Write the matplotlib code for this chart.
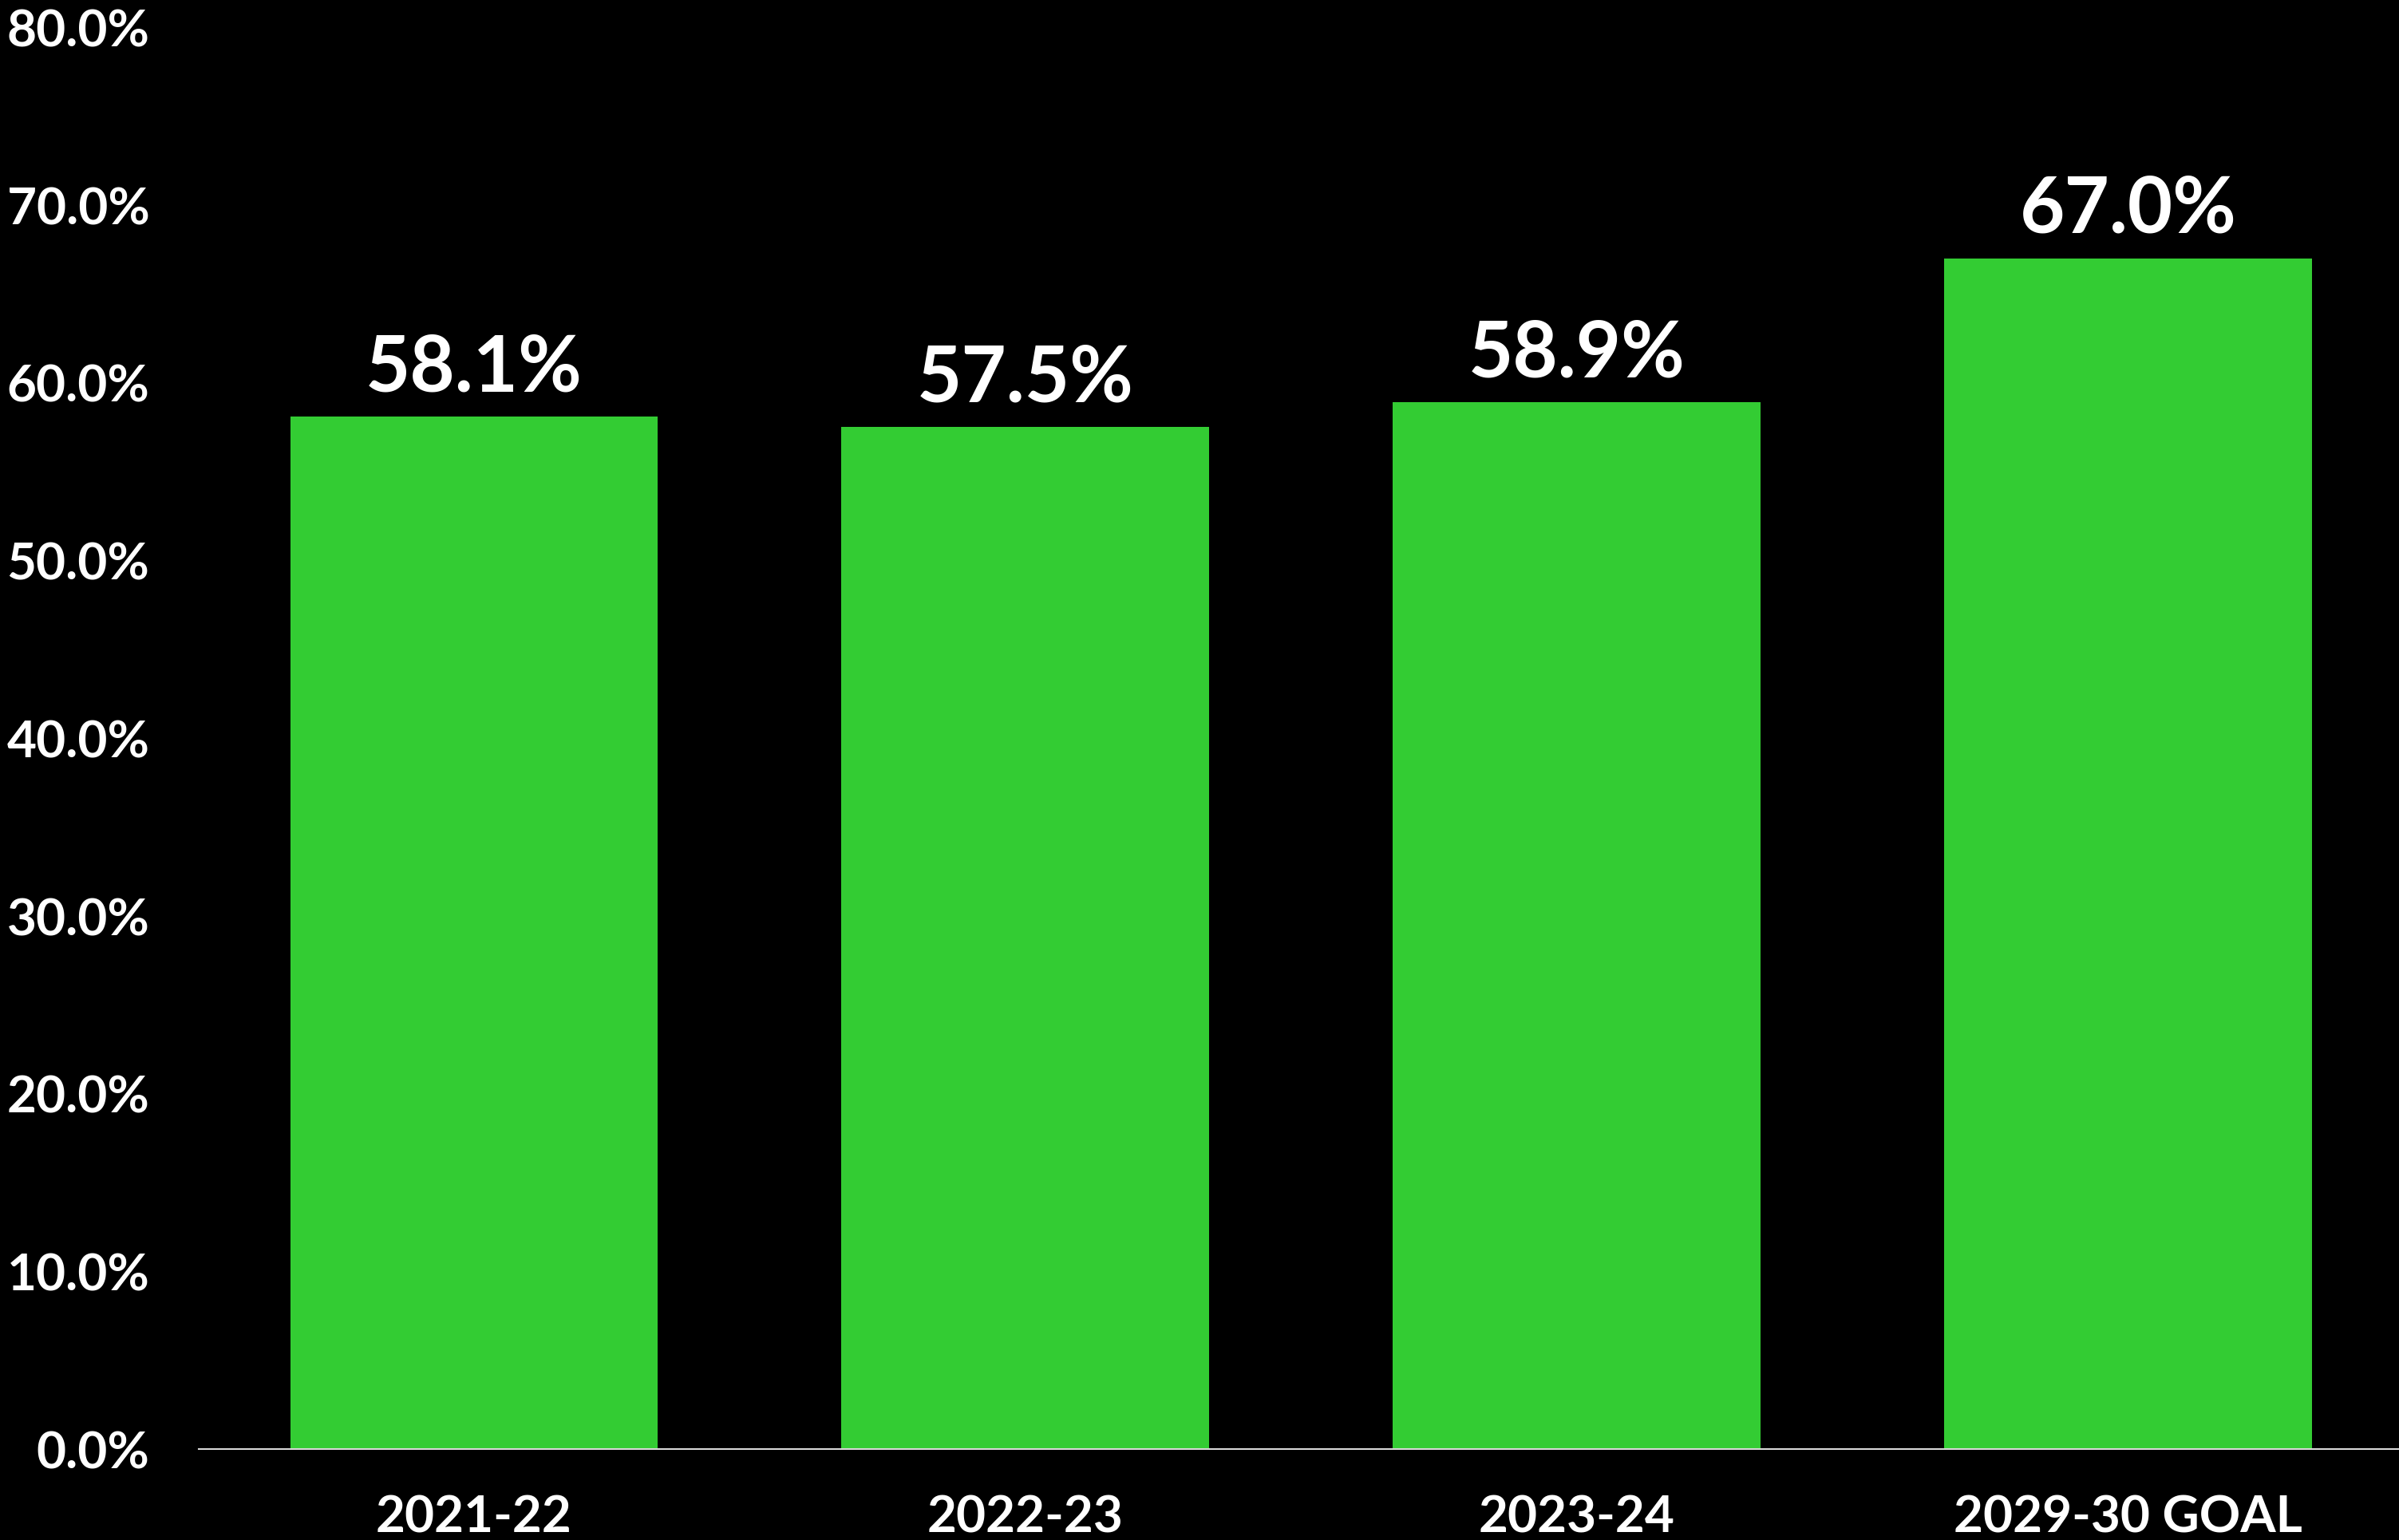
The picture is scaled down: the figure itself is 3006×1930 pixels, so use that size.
import matplotlib
matplotlib.use("Agg")
import matplotlib.pyplot as plt
from matplotlib.ticker import FuncFormatter, MultipleLocator

categories = ["2021-22", "2022-23", "2023-24", "2029-30 GOAL"]
values = [0.581, 0.575, 0.589, 0.670]
value_labels = ["58.1%", "57.5%", "58.9%", "67.0%"]

plt.rcParams['font.family'] = ['Lato', 'DejaVu Sans']

fig = plt.figure(figsize=(30.06, 19.31), dpi=100, facecolor='black')
ax = fig.add_axes([248.6/3006, 114.3/1931, (3012-248.6)/3006, (1816.7-35)/1931])
ax.set_facecolor('black')

x = list(range(len(categories)))
bars = ax.bar(x, values, width=0.667, color='#33CC33', edgecolor='none', zorder=2)

for xi, v, lab in zip(x, values, value_labels):
    ax.annotate(lab, (xi, v), xytext=(0, 23.5), textcoords='offset points',
                ha='center', va='baseline', color='white', fontsize=70, fontweight='bold')

ax.set_xlim(-0.5, 3.5)
ax.set_ylim(0, 0.8)
ax.yaxis.set_major_locator(MultipleLocator(0.1))
ax.yaxis.set_major_formatter(FuncFormatter(lambda v, p: f"{v*100:.1f}%"))
ax.set_xticks(x)
ax.set_xticklabels(categories)

for s in ['top', 'right', 'left']:
    ax.spines[s].set_visible(False)
ax.spines['bottom'].set_color('#D9D9D9')
ax.spines['bottom'].set_linewidth(1.5)

ax.tick_params(axis='y', length=0, pad=44, labelsize=46, labelcolor='white')
ax.tick_params(axis='x', length=0, pad=41, labelsize=46, labelcolor='white')
for t in ax.get_xticklabels() + ax.get_yticklabels():
    t.set_fontweight('bold')

fig.savefig('out.png', dpi=100, facecolor='black')
